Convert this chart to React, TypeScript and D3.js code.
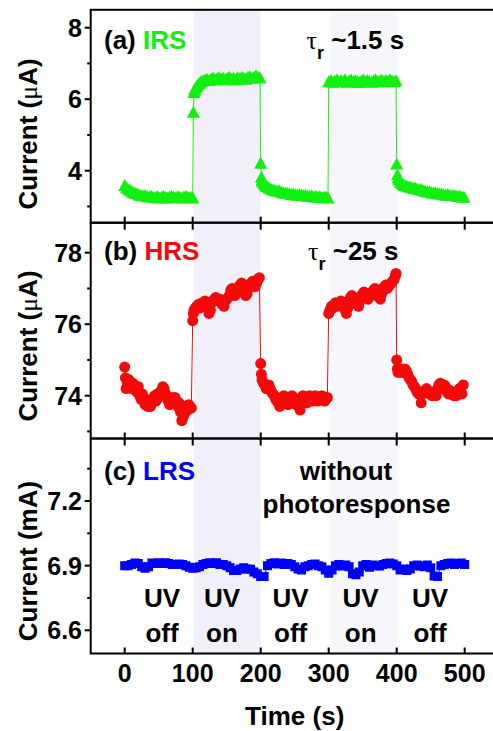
import React from 'react';
import * as d3 from 'd3';

// time axis
const xTicks = [0, 100, 200, 300, 400, 500];
const uvOnPeriods = [[102, 200], [303, 400]];
const uvTimes = [55, 143, 244, 347, 449];
const uvTop = ['UV', 'UV', 'UV', 'UV', 'UV'];
const uvBottom = ['off', 'on', 'off', 'on', 'off'];

// (a) IRS, current in uA
const irsOff1 = [[0,3.6],[3,3.53],[6,3.48],[9,3.45],[12,3.41],[15,3.38],[18,3.37],[21,3.34],[24,3.32],[27,3.31],[30,3.33],[33,3.29],[36,3.28],[39,3.3],[42,3.27],[45,3.26],[48,3.29],[51,3.25],[54,3.27],[57,3.3],[60,3.26],[63,3.25],[66,3.28],[69,3.3],[72,3.27],[75,3.26],[78,3.29],[81,3.27],[84,3.25],[87,3.28],[90,3.3],[93,3.27],[96,3.26],[99,3.28],[100,3.25]];
const irsOn1 = [[101,5.65],[102,6.2],[103,6.27],[104,6.32],[106,6.37],[108,6.42],[110,6.46],[112,6.5],[115,6.53],[118,6.55],[121,6.57],[124,6.54],[127,6.58],[130,6.61],[133,6.56],[136,6.59],[139,6.62],[142,6.57],[145,6.6],[148,6.56],[151,6.59],[154,6.63],[157,6.57],[160,6.6],[163,6.56],[166,6.62],[169,6.58],[172,6.63],[175,6.6],[178,6.57],[181,6.62],[184,6.64],[187,6.6],[190,6.63],[193,6.67],[196,6.63],[199,6.61]];
const irsOff2 = [[200,4.22],[201,3.83],[202,3.75],[203,3.7],[205,3.65],[207,3.6],[209,3.57],[212,3.54],[215,3.5],[218,3.48],[221,3.46],[224,3.44],[227,3.45],[230,3.42],[233,3.4],[236,3.38],[239,3.39],[242,3.37],[245,3.35],[248,3.36],[251,3.34],[254,3.33],[257,3.35],[260,3.32],[263,3.31],[266,3.33],[269,3.3],[272,3.29],[275,3.31],[278,3.28],[281,3.3],[284,3.27],[287,3.29],[290,3.26],[293,3.28],[296,3.27],[299,3.25]];
const irsOn2 = [[300,6.5],[303,6.54],[306,6.49],[309,6.52],[312,6.56],[315,6.5],[318,6.54],[321,6.51],[324,6.56],[327,6.49],[330,6.52],[333,6.55],[336,6.5],[339,6.54],[342,6.51],[345,6.48],[348,6.52],[351,6.56],[354,6.5],[357,6.54],[360,6.51],[363,6.49],[366,6.53],[369,6.56],[372,6.5],[375,6.52],[378,6.55],[381,6.5],[384,6.54],[387,6.51],[390,6.56],[393,6.52],[396,6.5],[399,6.53]];
const irsOff3 = [[400,4.2],[401,3.9],[402,3.82],[403,3.76],[405,3.7],[407,3.66],[409,3.63],[412,3.6],[415,3.58],[418,3.56],[421,3.55],[424,3.52],[427,3.53],[430,3.5],[433,3.48],[436,3.49],[439,3.45],[442,3.44],[445,3.42],[448,3.43],[451,3.4],[454,3.39],[457,3.4],[460,3.37],[463,3.36],[466,3.37],[469,3.34],[472,3.33],[475,3.35],[478,3.32],[481,3.31],[484,3.32],[487,3.31],[490,3.29],[493,3.3],[496,3.28],[499,3.27]];

// (b) HRS, current in uA
const hrsOff1 = [[0,74.8],[1,74.5],[2,74.2],[4,74.35],[6,74.45],[8,74.3],[10,74.2],[12,74.35],[14,74.3],[16,74.15],[18,74.1],[20,74.25],[22,74.0],[24,73.9],[26,74.05],[28,73.85],[30,73.75],[32,73.9],[34,73.7],[36,73.85],[38,73.7],[40,73.8],[42,73.9],[44,74.0],[46,73.85],[48,74.05],[50,73.95],[52,74.1],[54,74.15],[56,74.25],[58,74.2],[60,74.05],[62,73.95],[64,73.85],[66,73.75],[68,73.95],[70,73.9],[72,73.8],[74,73.95],[76,73.85],[78,73.7],[80,73.8],[82,73.55],[84,73.3],[86,73.4],[88,73.5],[90,73.65],[92,73.6],[94,73.75],[96,73.7],[98,73.65]];
const hrsOn1 = [[100,76.1],[101,76.3],[102,76.4],[104,76.45],[106,76.5],[108,76.55],[110,76.45],[112,76.5],[114,76.6],[116,76.55],[118,76.65],[120,76.6],[122,76.45],[124,76.3],[126,76.4],[128,76.6],[130,76.65],[132,76.7],[134,76.75],[136,76.7],[138,76.65],[140,76.7],[142,76.6],[144,76.55],[146,76.5],[148,76.65],[150,76.7],[152,76.75],[154,76.8],[156,76.95],[158,77.0],[160,76.9],[162,76.8],[164,76.85],[166,76.9],[168,77.05],[170,77.1],[172,77.15],[174,77.0],[176,76.9],[178,76.8],[180,76.85],[182,77.0],[184,77.1],[186,77.15],[188,77.2],[190,77.1],[192,77.05],[194,77.15],[196,77.25],[198,77.3]];
const hrsOff2 = [[200,74.9],[201,74.6],[202,74.45],[204,74.35],[206,74.3],[208,74.2],[210,74.25],[212,74.3],[214,74.2],[216,74.1],[218,74.05],[220,74.0],[222,73.9],[224,73.85],[226,73.8],[228,73.7],[230,73.75],[232,73.9],[234,74.0],[236,73.95],[238,73.85],[240,73.75],[242,73.8],[244,73.9],[246,74.0],[248,73.95],[250,73.85],[252,73.75],[254,73.8],[256,73.7],[258,73.6],[260,73.85],[262,74.0],[264,73.95],[266,73.9],[268,73.8],[270,73.9],[272,74.0],[274,73.95],[276,73.85],[278,73.9],[280,74.0],[282,73.95],[284,73.85],[286,73.9],[288,73.95],[290,74.0],[292,73.9],[294,73.85],[296,73.9],[298,73.95]];
const hrsOn2 = [[300,76.3],[302,76.4],[304,76.5],[306,76.45],[308,76.55],[310,76.6],[312,76.5],[314,76.55],[316,76.6],[318,76.65],[320,76.6],[322,76.5],[324,76.4],[326,76.3],[328,76.45],[330,76.6],[332,76.75],[334,76.8],[336,76.75],[338,76.7],[340,76.6],[342,76.55],[344,76.5],[346,76.65],[348,76.8],[350,76.85],[352,76.9],[354,76.8],[356,76.75],[358,76.7],[360,76.8],[362,76.85],[364,76.9],[366,76.95],[368,77.0],[370,76.9],[372,76.8],[374,76.75],[376,76.7],[378,76.85],[380,77.0],[382,77.05],[384,77.1],[386,77.0],[388,77.05],[390,77.1],[392,77.15],[394,77.2],[396,77.25],[398,77.35],[399,77.42]];
const hrsOff3 = [[400,75.0],[401,74.75],[402,74.65],[404,74.7],[406,74.75],[408,74.65],[410,74.7],[412,74.75],[414,74.7],[416,74.6],[418,74.5],[420,74.45],[422,74.4],[424,74.3],[426,74.25],[428,74.2],[430,74.1],[432,74.05],[434,74.1],[436,73.8],[438,74.05],[440,74.1],[442,74.15],[444,74.2],[446,74.1],[448,74.05],[450,74.1],[452,74.0],[454,74.05],[456,74.1],[458,74.0],[460,74.2],[462,74.3],[464,74.35],[466,74.3],[468,74.2],[470,74.3],[472,74.25],[474,74.1],[476,74.05],[478,74.15],[480,74.1],[482,74.05],[484,74.0],[486,74.05],[488,74.0],[490,74.1],[492,74.2],[494,74.1],[496,74.05],[498,74.3]];

// (c) LRS, current in mA
const lrsData = [[0,6.9],[5,6.9],[10,6.905],[15,6.912],[20,6.91],[25,6.895],[30,6.888],[35,6.895],[40,6.912],[45,6.91],[50,6.913],[55,6.91],[60,6.913],[65,6.91],[70,6.905],[75,6.905],[80,6.908],[85,6.905],[90,6.9],[95,6.892],[100,6.888],[105,6.89],[110,6.895],[115,6.905],[120,6.91],[125,6.913],[130,6.91],[135,6.913],[140,6.905],[145,6.905],[150,6.9],[155,6.89],[160,6.878],[165,6.878],[170,6.885],[175,6.89],[180,6.885],[185,6.883],[190,6.87],[195,6.862],[200,6.85],[205,6.85],[210,6.9],[215,6.91],[220,6.913],[225,6.908],[230,6.912],[235,6.905],[240,6.91],[245,6.905],[250,6.895],[255,6.885],[260,6.88],[265,6.895],[270,6.9],[275,6.905],[280,6.908],[285,6.9],[290,6.895],[295,6.88],[300,6.865],[305,6.88],[310,6.9],[315,6.905],[320,6.898],[325,6.903],[330,6.895],[335,6.862],[340,6.858],[345,6.87],[350,6.9],[355,6.905],[360,6.892],[365,6.903],[370,6.9],[375,6.898],[380,6.905],[385,6.91],[390,6.912],[395,6.908],[400,6.9],[405,6.88],[410,6.885],[415,6.878],[420,6.885],[425,6.9],[430,6.903],[435,6.898],[440,6.895],[445,6.903],[450,6.89],[455,6.852],[460,6.85],[465,6.9],[470,6.905],[475,6.91],[480,6.912],[485,6.905],[490,6.91],[495,6.912],[500,6.905]];

const irsData = [...irsOff1, ...irsOn1, ...irsOff2, ...irsOn2, ...irsOff3];
const hrsData = [...hrsOff1, ...hrsOn1, ...hrsOff2, ...hrsOn2, ...hrsOff3];

const FONT = 'Liberation Sans, Arial, sans-serif';
const GREEN = '#12f012';
const RED = '#f40a0a';
const BLUE = '#0000ff';

const x = d3.scaleLinear().domain([-50, 550]).range([90.7, 498.7]);
const left = 90.7;
const right = 498.7;

const panels = [
  {
    key: 'a', top: 9.8, bottom: 222.7,
    y: d3.scaleLinear().domain([4, 8]).range([170.7, 27.7]),
    major: [4, 6, 8], minor: [3, 5, 7], fmt: (d: number) => String(d),
    unit: 'A', prefix: '\u03bc', titleY: 134,
  },
  {
    key: 'b', top: 222.7, bottom: 438.5,
    y: d3.scaleLinear().domain([74, 78]).range([395.7, 252.7]),
    major: [74, 76, 78], minor: [73, 75, 77], fmt: (d: number) => String(d),
    unit: 'A', prefix: '\u03bc', titleY: 346,
  },
  {
    key: 'c', top: 438.5, bottom: 653.5,
    y: d3.scaleLinear().domain([6.6, 7.2]).range([630.3, 501]),
    major: [6.6, 6.9, 7.2], minor: [6.75, 7.05, 7.35], fmt: d3.format('.1f'),
    unit: 'mA', prefix: '', titleY: 561,
  },
];

const tri = 'M0,-6L6.5,6L-6.5,6Z';
const square = d3.symbol().type(d3.symbolSquare).size(81)();

export default function App() {
  const [pa, pb, pc] = panels;
  const lineA = d3.line<number[]>().x(d => x(d[0])).y(d => pa.y(d[1]));
  const lineB = d3.line<number[]>().x(d => x(d[0])).y(d => pb.y(d[1]));
  const lineC = d3.line<number[]>().x(d => x(d[0])).y(d => pc.y(d[1]));

  const tau = (xPos: number, yPos: number, rest: string) => (
    <text x={xPos} y={yPos} fontFamily={FONT} fontSize={26} fontWeight="bold" fill="#000">
      <tspan fontFamily="Liberation Serif, serif" fontWeight="normal">{'\u03c4'}</tspan>
      <tspan fontSize={18} dy={10}>r</tspan>
      <tspan dy={-10}>{rest}</tspan>
    </text>
  );

  return (
    <svg width={493} height={731} style={{ position: 'absolute', left: 0, top: 0, background: '#fff' }}>
      <defs>
        {panels.map(p => (
          <clipPath id={`clip-${p.key}`} key={p.key}>
            <rect x={left} y={p.top} width={right - left} height={p.bottom - p.top} />
          </clipPath>
        ))}
      </defs>

      {/* UV-on shading */}
      {uvOnPeriods.map((r, i) => (
        <rect key={i} x={x(r[0])} y={pa.top} width={x(r[1]) - x(r[0])} height={pc.bottom - pa.top}
          fill={i === 0 ? '#f1eff7' : '#f7f6fb'} />
      ))}

      {/* data */}
      <g clipPath="url(#clip-a)">
        <path d={lineA(irsData) || ''} fill="none" stroke={GREEN} strokeWidth={1} />
        {irsData.map((d, i) => (
          <path key={i} d={tri} transform={`translate(${x(d[0])},${pa.y(d[1])})`} fill={GREEN} />
        ))}
      </g>
      <g clipPath="url(#clip-b)">
        <path d={lineB(hrsData) || ''} fill="none" stroke={RED} strokeWidth={1} />
        {hrsData.map((d, i) => (
          <circle key={i} cx={x(d[0])} cy={pb.y(d[1])} r={5.5} fill={RED} />
        ))}
      </g>
      <g clipPath="url(#clip-c)">
        <path d={lineC(lrsData) || ''} fill="none" stroke={BLUE} strokeWidth={1} />
        {lrsData.map((d, i) => (
          <path key={i} d={square || ''} transform={`translate(${x(d[0])},${pc.y(d[1])})`} fill={BLUE} />
        ))}
      </g>

      {/* frames and y axes */}
      {panels.map((p, pi) => (
        <g key={p.key}>
          <rect x={left} y={p.top} width={right - left} height={p.bottom - p.top} fill="none" stroke="#000" strokeWidth={2} />
          {p.major.map(v => (
            <g key={v}>
              <line x1={left - 6} x2={left} y1={p.y(v)} y2={p.y(v)} stroke="#000" strokeWidth={2} />
              <text x={82} y={p.y(v)} dy="0.36em" textAnchor="end" fontFamily={FONT} fontWeight="bold" fontSize={25}>
                {p.fmt(v)}
              </text>
            </g>
          ))}
          {p.minor.filter(v => p.y(v) > p.top + 1 && p.y(v) < p.bottom - 1).map(v => (
            <line key={v} x1={left - 3.5} x2={left} y1={p.y(v)} y2={p.y(v)} stroke="#000" strokeWidth={2} />
          ))}
          {xTicks.map(t => (
            <line key={t} x1={x(t)} x2={x(t)}
              y1={p.bottom - 6} y2={pi < 2 ? p.bottom + 7 : p.bottom}
              stroke="#000" strokeWidth={2} />
          ))}
          <text transform={`translate(37,${p.titleY}) rotate(-90)`} textAnchor="middle"
            fontFamily={FONT} fontWeight="bold" fontSize={26}>
            {'Current ('}
            {p.prefix && <tspan fontFamily="Liberation Serif, serif" fontWeight="normal">{p.prefix}</tspan>}
            {p.unit + ')'}
          </text>
        </g>
      ))}

      {/* x axis labels */}
      {xTicks.map(t => (
        <text key={t} x={x(t)} y={681.5} textAnchor="middle" fontFamily={FONT} fontWeight="bold" fontSize={25}>{t}</text>
      ))}
      <text x={294.7} y={725} textAnchor="middle" fontFamily={FONT} fontWeight="bold" fontSize={26}>Time (s)</text>

      {/* annotations */}
      <text x={104} y={48.5} fontFamily={FONT} fontWeight="bold" fontSize={26}>
        (a) <tspan fill={GREEN}>IRS</tspan>
      </text>
      {tau(306.5, 48.5, ' ~1.5 s')}
      <text x={104} y={260} fontFamily={FONT} fontWeight="bold" fontSize={26}>
        (b) <tspan fill={RED}>HRS</tspan>
      </text>
      {tau(308, 260, ' ~25 s')}
      <text x={104} y={480} fontFamily={FONT} fontWeight="bold" fontSize={26}>
        (c) <tspan fill={BLUE}>LRS</tspan>
      </text>
      <text x={346} y={480} textAnchor="middle" fontFamily={FONT} fontWeight="bold" fontSize={26}>without</text>
      <text x={356.5} y={513} textAnchor="middle" fontFamily={FONT} fontWeight="bold" fontSize={26}>photoresponse</text>
      {uvTimes.map((t, i) => (
        <g key={i}>
          <text x={x(t)} y={606.5} textAnchor="middle" fontFamily={FONT} fontWeight="bold" fontSize={26}>{uvTop[i]}</text>
          <text x={x(t)} y={641.5} textAnchor="middle" fontFamily={FONT} fontWeight="bold" fontSize={26}>{uvBottom[i]}</text>
        </g>
      ))}
    </svg>
  );
}
